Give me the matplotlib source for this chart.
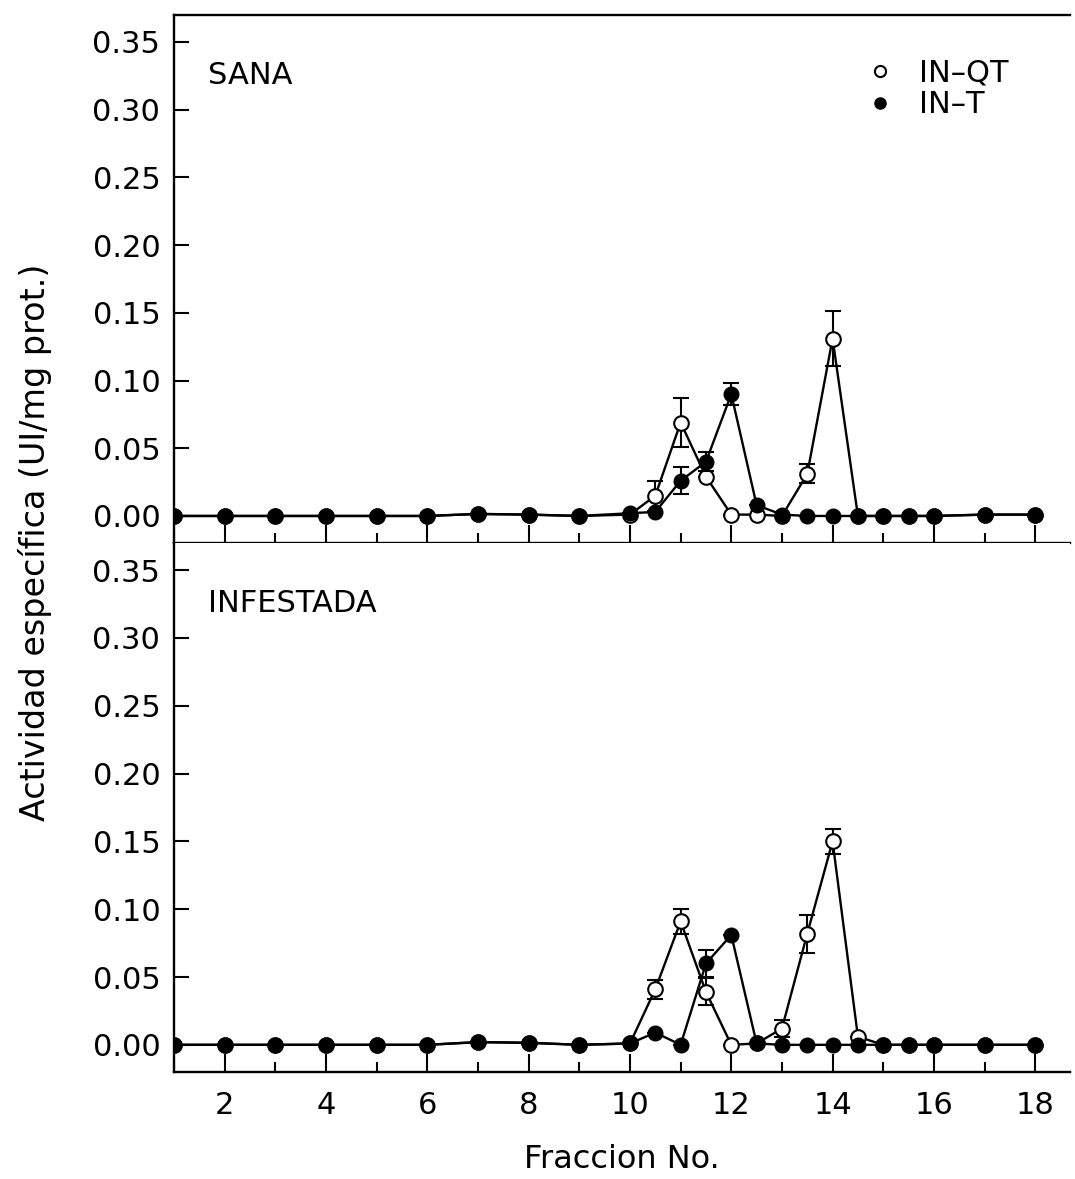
import numpy as np
import matplotlib
matplotlib.use("Agg")
import matplotlib.pyplot as plt
from matplotlib.ticker import MultipleLocator, FormatStrFormatter

# Fracciones
x = [1, 2, 3, 4, 5, 6, 7, 8, 9, 10, 10.5, 11, 11.5, 12, 12.5, 13, 13.5, 14, 14.5, 15, 15.5, 16, 17, 18]

# SANA
sana_qt = [0, 0, 0, 0, 0, 0, 0.0015, 0.001, 0, 0.001, 0.015, 0.069, 0.029, 0.001, 0.001, 0, 0.031, 0.131, 0, 0, 0, 0, 0.001, 0.001]
sana_qt_err = [0, 0, 0, 0, 0, 0, 0, 0, 0, 0, 0.011, 0.018, 0, 0, 0, 0, 0.007, 0.02, 0, 0, 0, 0, 0, 0]
sana_t = [0, 0, 0, 0, 0, 0, 0.0015, 0.001, 0, 0.002, 0.003, 0.026, 0.040, 0.090, 0.008, 0.001, 0, 0, 0, 0, 0, 0, 0.001, 0.001]
sana_t_err = [0, 0, 0, 0, 0, 0, 0, 0, 0, 0, 0, 0.01, 0.007, 0.008, 0, 0, 0, 0, 0, 0, 0, 0, 0, 0]

# INFESTADA
inf_qt = [0, 0, 0, 0, 0, 0, 0.002, 0.0015, 0, 0.001, 0.041, 0.091, 0.039, 0, 0.001, 0.012, 0.082, 0.150, 0.006, 0, 0, 0, 0, 0]
inf_qt_err = [0, 0, 0, 0, 0, 0, 0, 0, 0, 0, 0.007, 0.009, 0.01, 0, 0, 0.006, 0.014, 0.009, 0, 0, 0, 0, 0, 0]
inf_t = [0, 0, 0, 0, 0, 0, 0.002, 0.0015, 0, 0.001, 0.009, 0, 0.060, 0.081, 0.001, 0, 0, 0, 0, 0, 0, 0, 0, 0]
inf_t_err = [0, 0, 0, 0, 0, 0, 0, 0, 0, 0, 0, 0, 0.01, 0, 0, 0, 0, 0, 0, 0, 0, 0, 0, 0]

plt.rcParams['font.family'] = ['DejaVu Sans']
plt.rcParams['font.size'] = 22

fig = plt.figure(figsize=(10.75, 11.79), dpi=100)
ax1 = fig.add_axes([0.162, 0.5394, 0.833, 0.448])
ax2 = fig.add_axes([0.162, 0.0908, 0.833, 0.4486])

def panel(ax, qt, qt_err, t, t_err, titulo):
    ax.errorbar(x, qt, yerr=qt_err, color='black', lw=1.7, marker='o', ms=10.5,
                mfc='white', mec='black', mew=1.5, capsize=6, elinewidth=1.5,
                capthick=1.5, zorder=3)
    ax.errorbar(x, t, yerr=t_err, color='black', lw=1.7, marker='o', ms=10.5,
                mfc='black', mec='black', capsize=6, elinewidth=1.5,
                capthick=1.5, zorder=4)
    ax.set_xlim(1, 18.68)
    ax.set_ylim(-0.02, 0.37)
    ax.yaxis.set_major_locator(MultipleLocator(0.05))
    ax.yaxis.set_major_formatter(FormatStrFormatter('%.2f'))
    ax.xaxis.set_major_locator(MultipleLocator(2))
    ax.xaxis.set_minor_locator(MultipleLocator(1))
    ax.tick_params(axis='x', which='major', direction='in', length=13, width=1.5, pad=14)
    ax.tick_params(axis='x', which='minor', direction='in', length=7, width=1.5)
    ax.tick_params(axis='y', direction='in', length=11, width=1.5, pad=10)
    ax.spines['right'].set_visible(False)
    for s in ['left', 'bottom', 'top']:
        ax.spines[s].set_linewidth(1.7)
    ax.text(0.038, 0.886, titulo, transform=ax.transAxes, fontsize=22, va='center')

panel(ax1, sana_qt, sana_qt_err, sana_t, sana_t_err, 'SANA')
panel(ax2, inf_qt, inf_qt_err, inf_t, inf_t_err, 'INFESTADA')
ax1.tick_params(axis='x', labelbottom=False)
ax2.spines['top'].set_visible(False)

# Leyenda
h1, = ax1.plot([], [], 'o', ms=8, mfc='white', mec='black', mew=1.5)
h2, = ax1.plot([], [], 'o', ms=8, mfc='black', mec='black')
ax1.legend([h1, h2], ['IN\u2013QT', 'IN\u2013T'], loc='upper left',
           bbox_to_anchor=(0.740, 0.970), frameon=False, fontsize=22,
           handlelength=1, handletextpad=0.8, labelspacing=0.1)

ax2.set_xlabel('Fraccion No.', labelpad=17, fontsize=23)
fig.text(0.033, 0.54, 'Actividad específica (UI/mg prot.)', rotation=90,
         ha='center', va='center', fontsize=24)

fig.savefig('out.png', dpi=100)
